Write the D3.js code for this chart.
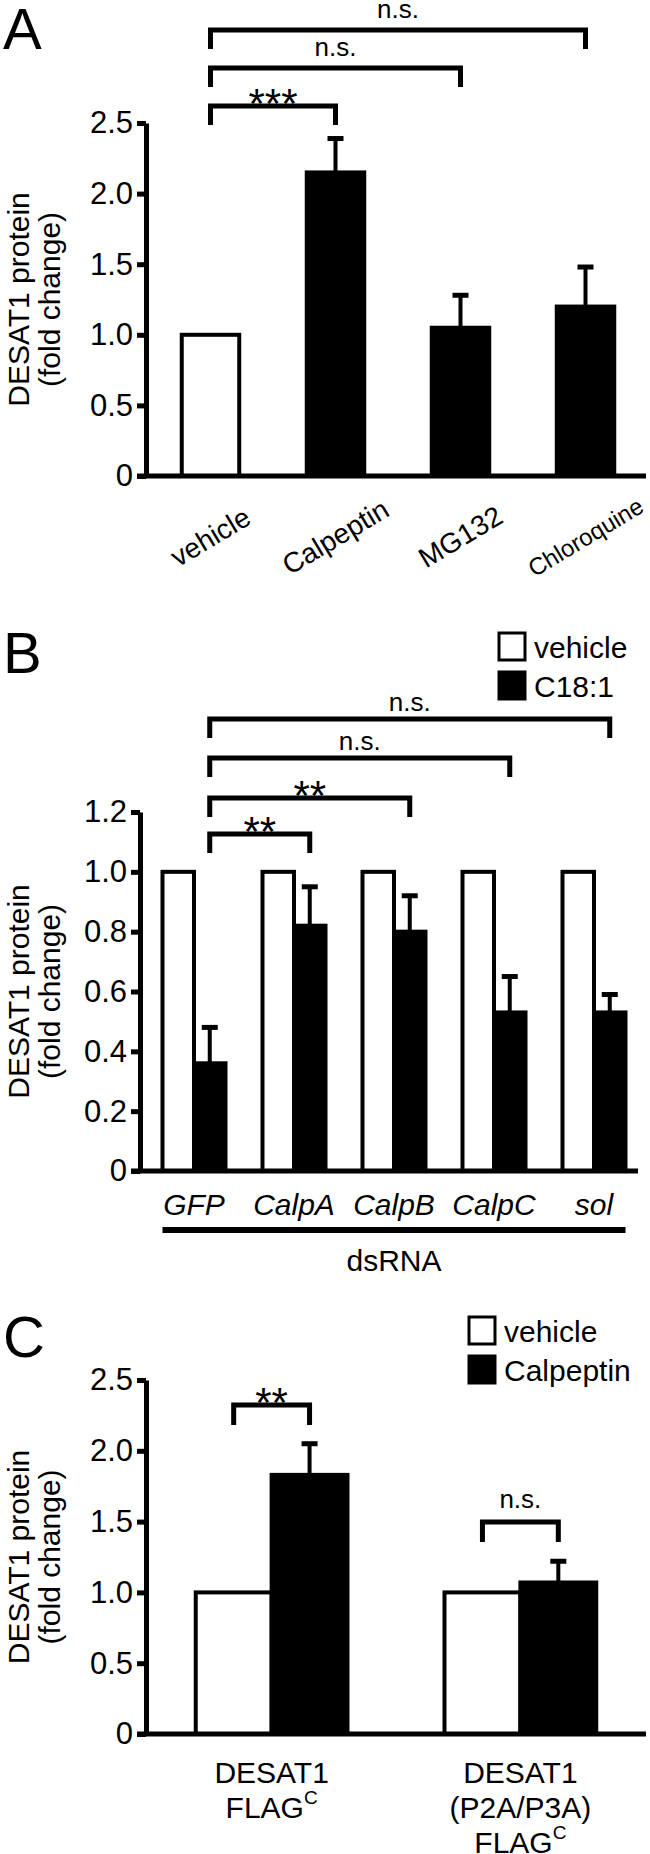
<!DOCTYPE html>
<html>
<head>
<meta charset="utf-8">
<script src="https://cdn.jsdelivr.net/npm/d3@7"></script>
<style>
body { margin: 0; background: #fff; }
svg { display: block; }
text { font-family: "Liberation Sans", Arial, Helvetica, sans-serif; fill: #000; }
</style>
</head>
<body>
<svg width="650" height="1854"></svg>
<script>
// ---- panel A : inhibitors
var treatA = ["vehicle", "Calpeptin", "MG132", "Chloroquine"],
    meanA = [1.0, 2.15, 1.05, 1.20],
    errA = [0, 0.24, 0.23, 0.28],
    ticksA = [0, 0.5, 1.0, 1.5, 2.0, 2.5],
    sigA = [["vehicle", "Calpeptin", "***"], ["vehicle", "MG132", "n.s."], ["vehicle", "Chloroquine", "n.s."]];

// ---- panel B : dsRNA knockdown
var dsRNA = ["GFP", "CalpA", "CalpB", "CalpC", "sol"],
    treatB = ["vehicle", "C18:1"],
    vehicleB = [1, 1, 1, 1, 1],
    oleateB = [0.36, 0.82, 0.80, 0.53, 0.53],
    oleateErrB = [0.12, 0.13, 0.12, 0.12, 0.06],
    ticksB = [0, 0.2, 0.4, 0.6, 0.8, 1.0, 1.2],
    sigB = [["GFP", "CalpA", "**"], ["GFP", "CalpB", "**"], ["GFP", "CalpC", "n.s."], ["GFP", "sol", "n.s."]];

// ---- panel C : constructs
var constructs = ["wt", "P2A/P3A"],
    constructLines = [["DESAT1", "FLAG|C"], ["DESAT1", "(P2A/P3A)", "FLAG|C"]],
    treatC = ["vehicle", "Calpeptin"],
    vehicleC = [1, 1],
    calpC = [1.83, 1.07],
    calpErrC = [0.22, 0.15],
    ticksC = [0, 0.5, 1.0, 1.5, 2.0, 2.5],
    sigC = ["**", "n.s."];

var svg = d3.select("svg");
var fmt = function(d) { return d === 0 ? "0" : d3.format(".1f")(d); };

function yAxis(y, ticks, axisX, right) {
  var g = svg.append("g")
      .attr("transform", "translate(" + axisX + ",0)")
      .call(d3.axisLeft(y).tickValues(ticks).tickSize(9).tickSizeOuter(0).tickPadding(4).tickFormat(fmt));
  g.select(".domain").attr("stroke", "#000").attr("stroke-width", 5);
  g.selectAll(".tick line").attr("stroke", "#000").attr("stroke-width", 5);
  g.selectAll(".tick text").attr("font-size", 31).attr("fill", "#000")
      .attr("font-family", "Liberation Sans, Arial, sans-serif");
  // baseline
  svg.append("line")
      .attr("x1", axisX - 9).attr("x2", right)
      .attr("y1", y(0)).attr("y2", y(0))
      .attr("stroke", "#000").attr("stroke-width", 5);
  // title
  var cy = (y.range()[0] + y.range()[1]) / 2;
  var t = svg.append("text")
      .attr("transform", "translate(29," + cy + ") rotate(-90)")
      .attr("text-anchor", "middle")
      .attr("font-size", 30);
  t.append("tspan").attr("x", 0).attr("dy", 0).text("DESAT1 protein");
  t.append("tspan").attr("x", 0).attr("dy", 31).text("(fold change)");
}

function errBar(x, y0, y1) {
  svg.append("line").attr("x1", x).attr("x2", x).attr("y1", y0).attr("y2", y1)
      .attr("stroke", "#000").attr("stroke-width", 4);
  svg.append("line").attr("x1", x - 8).attr("x2", x + 8).attr("y1", y1).attr("y2", y1)
      .attr("stroke", "#000").attr("stroke-width", 5);
}

function bracket(x1, x2, yb, leg, label, nsOff) {
  svg.append("path")
      .attr("d", "M" + x1 + "," + (yb + leg) + "V" + yb + "H" + x2 + "V" + (yb + leg))
      .attr("fill", "none").attr("stroke", "#000").attr("stroke-width", 5);
  var star = label.indexOf("*") >= 0;
  svg.append("text")
      .attr("x", (x1 + x2) / 2)
      .attr("y", star ? yb + 12 : yb + nsOff)
      .attr("text-anchor", "middle")
      .attr("font-size", star ? 42 : 26)
      .text(label);
}

function letter(ch, base) {
  svg.append("text").attr("x", 3).attr("y", base).attr("font-size", 58).text(ch);
}

function legend(x, y0, names) {
  names.forEach(function(n, i) {
    var yy = y0 + i * 39;
    svg.append("rect").attr("x", x).attr("y", yy).attr("width", 26).attr("height", 27)
        .attr("fill", i === 0 ? "#fff" : "#000").attr("stroke", "#000").attr("stroke-width", 3);
    svg.append("text").attr("x", x + 35).attr("y", yy + 14)
        .attr("dominant-baseline", "central").attr("font-size", 30).text(n);
  });
}

// ================= A
(function() {
  var y = d3.scaleLinear().domain([0, 2.5]).range([476, 123]);
  var x = d3.scaleBand().domain(treatA).range([148, 648]).paddingInner(0.54).paddingOuter(0.27);
  letter("A", 49);
  treatA.forEach(function(t, i) {
    svg.append("rect")
        .attr("x", x(t)).attr("y", y(meanA[i]))
        .attr("width", x.bandwidth()).attr("height", y(0) - y(meanA[i]))
        .attr("fill", i === 0 ? "#fff" : "#000")
        .attr("stroke", "#000").attr("stroke-width", 4);
    if (errA[i] > 0) errBar(x(t) + x.bandwidth() / 2, y(meanA[i]), y(meanA[i] + errA[i]));
  });
  yAxis(y, ticksA, 146, 646);
  treatA.forEach(function(t, i) {
    var cx = x(t) + x.bandwidth() / 2;
    svg.append("text")
        .attr("transform", "translate(" + cx + ",537) rotate(-31)")
        .attr("text-anchor", "middle").attr("dominant-baseline", "central")
        .attr("font-size", t === "Chloroquine" ? 24 : 28)
        .text(t);
  });
  var levels = [106, 68, 30];
  sigA.forEach(function(s, i) {
    bracket(x(s[0]) + x.bandwidth() / 2, x(s[1]) + x.bandwidth() / 2, levels[i], 19, s[2], -12);
  });
})();

// ================= B
(function() {
  var y = d3.scaleLinear().domain([0, 1.2]).range([1171, 812]);
  var x0 = d3.scaleBand().domain(dsRNA).range([144, 644]).paddingInner(0.37).paddingOuter(0.185);
  var x1 = d3.scaleBand().domain(treatB).range([0, x0.bandwidth()]);
  letter("B", 673);
  legend(499, 633, treatB);
  dsRNA.forEach(function(g, i) {
    svg.append("rect")
        .attr("x", x0(g) + x1("vehicle")).attr("y", y(vehicleB[i]))
        .attr("width", x1.bandwidth()).attr("height", y(0) - y(vehicleB[i]))
        .attr("fill", "#fff").attr("stroke", "#000").attr("stroke-width", 4);
    svg.append("rect")
        .attr("x", x0(g) + x1("C18:1")).attr("y", y(oleateB[i]))
        .attr("width", x1.bandwidth()).attr("height", y(0) - y(oleateB[i]))
        .attr("fill", "#000").attr("stroke", "#000").attr("stroke-width", 4);
    errBar(x0(g) + x1("C18:1") + x1.bandwidth() / 2, y(oleateB[i]), y(oleateB[i] + oleateErrB[i]));
    svg.append("text")
        .attr("x", x0(g) + x0.bandwidth() / 2).attr("y", 1204)
        .attr("text-anchor", "middle").attr("dominant-baseline", "central")
        .attr("font-size", 30).attr("font-style", "italic")
        .text(g);
  });
  yAxis(y, ticksB, 140, 638);
  var bc = function(g) { return x0(g) + x1("C18:1") + x1.bandwidth() / 2; };
  var levels = [834, 798, 758, 719];
  sigB.forEach(function(s, i) {
    bracket(bc(s[0]), bc(s[1]), levels[i], 19, s[2], -8);
  });
  svg.append("line")
      .attr("x1", x0(dsRNA[0])).attr("x2", x0(dsRNA[dsRNA.length - 1]) + x0.bandwidth())
      .attr("y1", 1230).attr("y2", 1230)
      .attr("stroke", "#000").attr("stroke-width", 6);
  svg.append("text")
      .attr("x", x0("CalpB") + x0.bandwidth() / 2).attr("y", 1260)
      .attr("text-anchor", "middle").attr("dominant-baseline", "central")
      .attr("font-size", 30).text("dsRNA");
})();

// ================= C
(function() {
  var y = d3.scaleLinear().domain([0, 2.5]).range([1734, 1380]);
  var x0 = d3.scaleBand().domain(constructs).range([146, 646]).paddingInner(0.39).paddingOuter(0.2);
  var x1 = d3.scaleBand().domain(treatC).range([0, x0.bandwidth()]);
  letter("C", 1357);
  legend(469, 1317, treatC);
  constructs.forEach(function(g, i) {
    svg.append("rect")
        .attr("x", x0(g) + x1("vehicle")).attr("y", y(vehicleC[i]))
        .attr("width", x1.bandwidth()).attr("height", y(0) - y(vehicleC[i]))
        .attr("fill", "#fff").attr("stroke", "#000").attr("stroke-width", 4);
    svg.append("rect")
        .attr("x", x0(g) + x1("Calpeptin")).attr("y", y(calpC[i]))
        .attr("width", x1.bandwidth()).attr("height", y(0) - y(calpC[i]))
        .attr("fill", "#000").attr("stroke", "#000").attr("stroke-width", 4);
    errBar(x0(g) + x1("Calpeptin") + x1.bandwidth() / 2, y(calpC[i]), y(calpC[i] + calpErrC[i]));
    var cx = x0(g) + x0.bandwidth() / 2;
    constructLines[i].forEach(function(line, j) {
      var parts = line.split("|");
      var t = svg.append("text")
          .attr("x", cx).attr("y", 1772 + j * 35)
          .attr("text-anchor", "middle").attr("dominant-baseline", "central")
          .attr("font-size", 30);
      t.append("tspan").text(parts[0]);
      if (parts[1]) t.append("tspan").attr("font-size", 19).attr("dy", -10).text(parts[1]);
    });
    var wx = x0(g) + x1("vehicle") + x1.bandwidth() / 2,
        bx = x0(g) + x1("Calpeptin") + x1.bandwidth() / 2;
    bracket(wx, bx, i === 0 ? 1405 : 1522, 20, sigC[i], -14);
  });
  yAxis(y, ticksC, 146, 646);
})();
</script>
</body>
</html>
